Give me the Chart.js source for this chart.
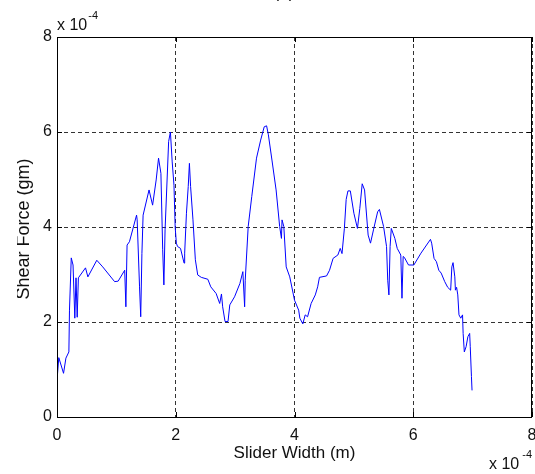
<!DOCTYPE html>
<html>
<head>
<meta charset="utf-8">
<script src="https://cdn.jsdelivr.net/npm/chart.js@4"></script>
<style>
html, body { margin: 0; padding: 0; background: #fff; }
canvas { display: block; }
</style>
</head>
<body>
<canvas id="c" width="535" height="474"></canvas>
<script>
// Slider width positions (units of 1e-4 m)
const sliderWidth = [
  0.00, 0.007, 0.03, 0.11, 0.15, 0.20, 0.21, 0.24, 0.27, 0.30, 0.32, 0.34, 0.36, 0.48, 0.52, 0.67, 0.77, 0.97, 1.03, 1.14,
  1.16, 1.18, 1.22, 1.34, 1.35, 1.39, 1.41, 1.43, 1.45, 1.55, 1.61, 1.67, 1.71, 1.75, 1.78, 1.80, 1.82, 1.88, 1.91, 1.94,
  1.97, 1.99, 2.01, 2.03, 2.08, 2.14, 2.15, 2.18, 2.21, 2.23, 2.25, 2.29, 2.33, 2.37, 2.43, 2.54, 2.59, 2.68, 2.74, 2.77,
  2.79, 2.83, 2.88, 2.91, 2.99, 3.08, 3.13, 3.16, 3.17, 3.22, 3.28, 3.36, 3.43, 3.49, 3.53, 3.56, 3.62, 3.69, 3.75, 3.78,
  3.79, 3.82, 3.86, 3.92, 4.00, 4.07, 4.09, 4.14, 4.18, 4.22, 4.28, 4.35, 4.39, 4.42, 4.54, 4.59, 4.65, 4.73, 4.77, 4.80,
  4.84, 4.87, 4.90, 4.94, 5.00, 5.06, 5.10, 5.14, 5.18, 5.24, 5.28, 5.33, 5.40, 5.43, 5.50, 5.55, 5.57, 5.59, 5.61, 5.63,
  5.69, 5.73, 5.79, 5.81, 5.83, 5.85, 5.92, 6.01, 6.13, 6.29, 6.31, 6.35, 6.39, 6.43, 6.47, 6.53, 6.58, 6.63, 6.65, 6.67,
  6.70, 6.71, 6.73, 6.75, 6.77, 6.80, 6.83, 6.84, 6.86, 6.89, 6.92, 6.95, 6.96, 6.98, 6.99
];

// Shear force at each position (units of 1e-4 gm)
const shearForce = [
  0.67, 0.88, 1.25, 0.92, 1.24, 1.37, 2.25, 3.35, 3.20, 2.08, 2.93, 2.10, 2.93, 3.14, 2.95, 3.30, 3.16, 2.85, 2.86, 3.09,
  2.32, 3.62, 3.69, 4.25, 4.15, 2.74, 2.11, 3.44, 4.25, 4.78, 4.46, 4.99, 5.45, 5.13, 3.52, 2.78, 3.94, 5.80, 6.00, 5.37,
  4.88, 4.00, 3.66, 3.59, 3.55, 3.24, 3.45, 4.29, 4.85, 5.34, 4.85, 4.15, 3.31, 2.99, 2.94, 2.90, 2.74, 2.60, 2.39, 2.59,
  2.32, 2.01, 2.01, 2.36, 2.53, 2.81, 3.06, 2.32, 2.88, 4.01, 4.64, 5.45, 5.83, 6.11, 6.13, 5.94, 5.41, 4.78, 4.01, 3.76,
  4.15, 4.01, 3.16, 2.95, 2.46, 2.25, 2.08, 1.96, 2.15, 2.11, 2.39, 2.57, 2.74, 2.94, 2.97, 3.09, 3.34, 3.41, 3.55, 3.44,
  3.97, 4.58, 4.76, 4.76, 4.29, 3.97, 4.39, 4.91, 4.78, 3.83, 3.66, 3.94, 4.32, 4.37, 4.01, 3.59, 2.88, 2.57, 3.59, 3.97,
  3.76, 3.55, 3.41, 2.50, 3.38, 3.36, 3.20, 3.20, 3.45, 3.74, 3.66, 3.34, 3.27, 3.09, 3.03, 2.85, 2.73, 2.67, 3.16, 3.25,
  2.95, 2.67, 2.73, 2.57, 2.15, 2.08, 2.15, 1.76, 1.37, 1.48, 1.69, 1.76, 1.48, 0.85, 0.56
];

const xTicks = [0, 2, 4, 6, 8];
const yTicks = [0, 2, 4, 6, 8];
const scaleBase = 'x 10';
const scaleExponent = '-4';
const titleText = '(a)';
const xLabel = 'Slider Width (m)';
const yLabel = 'Shear Force (gm)';

const FONT = '"Liberation Sans", Arial, sans-serif';
const TEXT = '#111';

// Frame, inward tick marks, axis labels and multipliers
const matlabAxes = {
  id: 'matlabAxes',
  afterDraw(chart) {
    const { ctx, chartArea: a, scales } = chart;
    ctx.save();
    ctx.strokeStyle = '#000';
    ctx.lineWidth = 1;
    ctx.setLineDash([]);
    ctx.beginPath();
    xTicks.forEach(v => {
      const px = Math.round(scales.x.getPixelForValue(v)) + 0.5;
      ctx.moveTo(px, a.bottom); ctx.lineTo(px, a.bottom - 5);
      ctx.moveTo(px, a.top); ctx.lineTo(px, a.top + 5);
    });
    yTicks.forEach(v => {
      const py = Math.round(scales.y.getPixelForValue(v)) + 0.5;
      ctx.moveTo(a.left, py); ctx.lineTo(a.left + 5, py);
      ctx.moveTo(a.right, py); ctx.lineTo(a.right - 5, py);
    });
    ctx.stroke();
    ctx.strokeRect(Math.round(a.left) + 0.5, Math.round(a.top) + 0.5,
                   Math.round(a.right - a.left) - 1, Math.round(a.bottom - a.top));

    ctx.fillStyle = TEXT;
    ctx.textBaseline = 'alphabetic';

    // x-axis title
    ctx.font = '17px ' + FONT;
    ctx.textAlign = 'center';
    ctx.fillText(xLabel, (a.left + a.right) / 2, 457.5);

    // plot title, mostly above the canvas edge
    ctx.fillText(titleText, 284, -2.5);

    // y-axis title, rotated; its left edge is cut off
    ctx.save();
    ctx.beginPath();
    ctx.rect(17, 0, 518, 474);
    ctx.clip();
    ctx.translate(28.5, (a.top + a.bottom) / 2 + 2);
    ctx.rotate(-Math.PI / 2);
    ctx.font = '18px ' + FONT;
    ctx.textAlign = 'center';
    ctx.fillText(yLabel, 0, 0);
    ctx.restore();

    // multipliers
    ctx.textAlign = 'left';
    ctx.font = '16px ' + FONT;
    ctx.fillText(scaleBase, a.left, 29.5);
    const w1 = ctx.measureText(scaleBase).width;
    ctx.font = '11px ' + FONT;
    ctx.fillText(scaleExponent, a.left + w1 + 1, 18.5);

    ctx.font = '16px ' + FONT;
    ctx.fillText(scaleBase, 489, 468.5);
    const w2 = ctx.measureText(scaleBase).width;
    ctx.font = '11px ' + FONT;
    ctx.fillText(scaleExponent, 489 + w2 + 3, 458);
    ctx.restore();
  }
};

const tickFont = { family: FONT, size: 16 };

new Chart(document.getElementById('c'), {
  type: 'line',
  data: {
    datasets: [{
      data: sliderWidth.map((x, i) => ({ x, y: shearForce[i] })),
      borderColor: '#0000ff',
      borderWidth: 1,
      pointRadius: 0,
      tension: 0,
      fill: false
    }]
  },
  options: {
    responsive: false,
    animation: false,
    events: [],
    layout: { padding: { top: 37, right: 3, left: 0, bottom: 0 } },
    plugins: { legend: { display: false }, tooltip: { enabled: false }, title: { display: false } },
    scales: {
      x: {
        type: 'linear',
        min: 0, max: 8,
        afterBuildTicks: s => { s.ticks = xTicks.map(v => ({ value: v })); },
        afterFit: s => { s.height = 57; s.paddingLeft = 0; s.paddingRight = 0; },
        grid: { color: '#333', lineWidth: 1, drawTicks: false },
        border: { display: false, dash: [4, 3] },
        ticks: { font: tickFont, color: TEXT, padding: 9, maxRotation: 0, autoSkip: false,
                 callback: v => String(v) }
      },
      y: {
        min: 0, max: 8,
        afterBuildTicks: s => { s.ticks = yTicks.map(v => ({ value: v })); },
        afterFit: s => { s.width = 57; s.paddingTop = 0; s.paddingBottom = 0; },
        grid: { color: '#333', lineWidth: 1, drawTicks: false },
        border: { display: false, dash: [4, 3] },
        ticks: { font: tickFont, color: TEXT, padding: 5, autoSkip: false,
                 callback: v => String(v) }
      }
    }
  },
  plugins: [matlabAxes]
});
</script>
</body>
</html>
